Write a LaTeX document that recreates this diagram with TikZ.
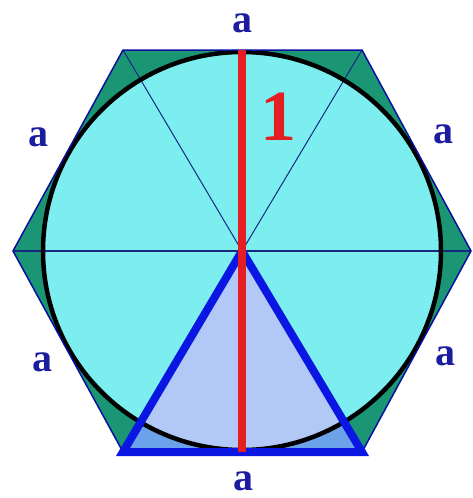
\documentclass[tikz,border=0pt]{standalone}
\usepackage{fontspec}
\setmainfont{Liberation Serif}
\usepackage{xcolor}
\usepackage{tikz}
\usetikzlibrary{calc}

\definecolor{hexgreen}{RGB}{26,150,116}
\definecolor{disccyan}{RGB}{124,238,240}
\definecolor{trilav}{RGB}{178,200,246}
\definecolor{tridark}{RGB}{108,162,234}
\definecolor{edgeblue}{RGB}{10,22,225}
\definecolor{thinnavy}{RGB}{22,40,130}
\definecolor{radred}{RGB}{228,30,34}
\definecolor{lblblue}{RGB}{28,28,160}

\begin{document}
\begin{tikzpicture}[x=1pt,y=-1pt,
  every node/.style={font=\fontsize{40}{40}\selectfont\bfseries,text=lblblue,inner sep=0pt},
  radius line/.style={draw=thinnavy,line width=1pt}]
\useasboundingbox (0,0) rectangle (472,498);
% corners of the hexagon
\coordinate (o) at (242,251);
\coordinate (v0) at (471,251);
\coordinate (v1) at (362,50);
\coordinate (v2) at (123,50);
\coordinate (v3) at (13,251);
\coordinate (v4) at (123,452);
\coordinate (v5) at (362,452);
\coordinate (top) at (242,50);
\coordinate (bot) at (242,452);

\fill[hexgreen] (v0) -- (v1) -- (v2) -- (v3) -- (v4) -- (v5) -- cycle;
\fill[disccyan] (o) circle[radius=199pt];
% the triangle on the bottom side
\begin{scope}
  \clip (o) -- (v4) -- (v5) -- cycle;
  \fill[tridark] (o) -- (v4) -- (v5) -- cycle;
  \fill[trilav] (o) circle[radius=199pt];
\end{scope}
\draw[radius line,line width=1.6pt] (v3) -- (v0);
\draw[radius line] (o) -- (v1);
\draw[radius line] (o) -- (v2);
\draw[black,line width=4.5pt] (o) circle[radius=199pt];
\draw[edgeblue!70!black,line width=1.5pt] (v0) -- (v1) -- (v2) -- (v3) -- (v4) -- (v5) -- cycle;
\draw[edgeblue,line width=8pt,line join=miter] (o) -- (v4) -- (v5) -- cycle;
\draw[radred,line width=8pt] (top) -- (bot);

\node (one) at (278,117) {\fontsize{72}{72}\selectfont\color{radred}1};
\node (atop) at (242,23) {a};
\node (abot) at (243,481) {a};
\node (aul) at (38,137) {a};
\node (aur) at (443,134) {a};
\node (all) at (42,362) {a};
\node (alr) at (445,356) {a};
\end{tikzpicture}
\end{document}
